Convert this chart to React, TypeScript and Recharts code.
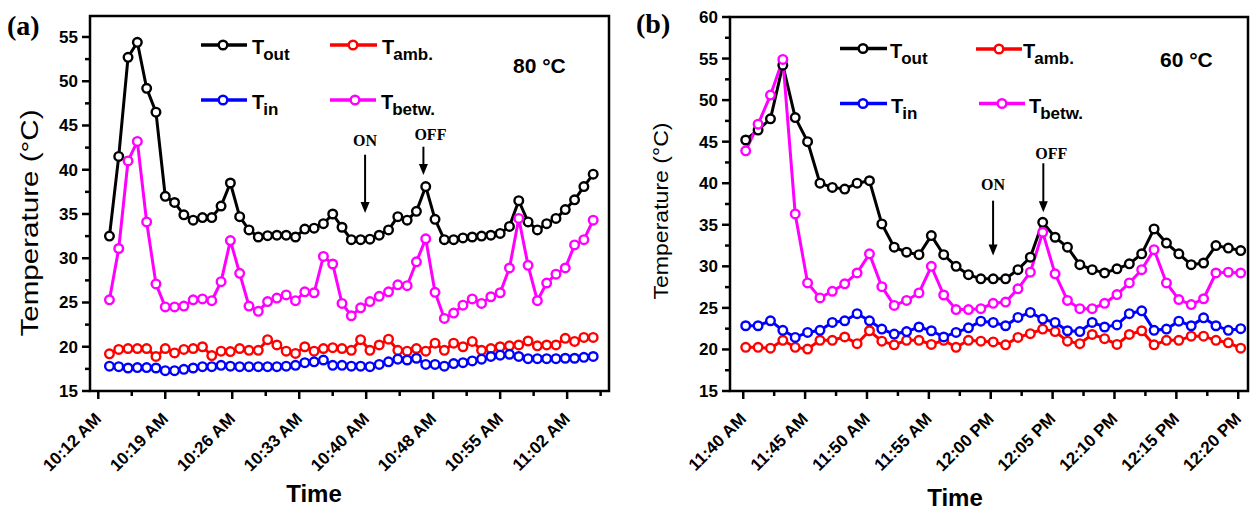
import React from 'react';
import { LineChart, Line, XAxis, YAxis, ReferenceArea, ReferenceLine } from 'recharts';

const SANS = 'Arial, "Liberation Sans", Helvetica, sans-serif';
const SERIF = '"Times New Roman", "Liberation Serif", serif';

// (a) 80 °C run, one reading a minute from about 10:13
const toutA = [32.5, 41.5, 52.7, 54.4, 49.2, 46.5, 37.0, 36.3, 34.9, 34.3, 34.6, 34.6, 35.9, 38.5, 34.7, 33.2, 32.4, 32.55, 32.6, 32.6, 32.4, 33.3, 33.4, 33.9, 35.0, 33.5, 32.1, 32.1, 32.15, 32.6, 33.2, 34.7, 34.3, 35.3, 38.1, 34.4, 32.1, 32.1, 32.3, 32.4, 32.5, 32.6, 32.8, 33.6, 36.5, 34.1, 33.2, 33.9, 34.5, 35.5, 36.6, 38.1, 39.5];
const tambA = [19.2, 19.7, 19.8, 19.8, 19.8, 18.9, 19.8, 19.3, 19.7, 19.8, 20.0, 19.0, 19.5, 19.45, 19.8, 19.6, 19.6, 20.8, 20.2, 19.5, 19.25, 20.0, 19.5, 19.8, 19.9, 19.8, 19.6, 20.8, 19.6, 20.2, 20.85, 19.6, 19.5, 19.8, 19.5, 20.4, 19.6, 20.4, 20.0, 20.6, 19.6, 19.8, 20.0, 20.1, 20.2, 20.65, 20.1, 20.2, 20.2, 20.95, 20.6, 21.05, 21.05];
const tinA = [17.8, 17.75, 17.6, 17.65, 17.65, 17.6, 17.3, 17.3, 17.45, 17.6, 17.75, 17.75, 17.9, 17.8, 17.75, 17.75, 17.75, 17.75, 17.75, 17.8, 17.9, 18.2, 18.3, 18.5, 17.9, 17.9, 17.8, 17.8, 17.75, 18.0, 18.3, 18.6, 18.5, 18.7, 18.0, 18.0, 17.8, 18.1, 18.2, 18.4, 18.6, 18.9, 19.05, 19.15, 18.9, 18.65, 18.65, 18.65, 18.65, 18.7, 18.7, 18.8, 18.9];
const tbetwA = [25.3, 31.1, 41.0, 43.2, 34.1, 27.1, 24.5, 24.5, 24.6, 25.3, 25.4, 25.2, 27.35, 32.0, 28.3, 24.6, 24.0, 25.1, 25.5, 25.85, 25.2, 26.2, 26.1, 30.2, 29.35, 24.9, 23.5, 24.4, 25.1, 25.7, 26.2, 27.0, 26.9, 29.6, 32.2, 26.15, 23.2, 23.8, 24.7, 25.4, 24.9, 25.65, 26.1, 28.9, 34.5, 29.2, 25.2, 27.2, 28.2, 28.9, 31.5, 32.1, 34.3];

// (b) 60 °C run, one reading a minute from 11:40 to 12:20
const toutB = [45.2, 46.4, 47.75, 54.2, 47.9, 45.0, 40.0, 39.5, 39.3, 40.0, 40.3, 35.1, 32.3, 31.7, 31.4, 33.7, 31.4, 30.0, 29.0, 28.5, 28.5, 28.5, 29.6, 31.1, 35.3, 33.5, 32.3, 30.2, 29.6, 29.2, 29.7, 30.3, 31.5, 34.5, 32.8, 31.5, 30.2, 30.4, 32.5, 32.2, 31.9];
const tambB = [20.25, 20.25, 20.15, 21.1, 20.25, 20.05, 21.1, 21.1, 21.5, 20.7, 22.25, 21.0, 20.55, 21.1, 21.1, 20.6, 21.1, 20.25, 21.1, 21.0, 20.9, 20.55, 21.45, 21.9, 22.45, 22.15, 21.0, 20.7, 21.8, 21.3, 20.6, 21.8, 22.25, 20.55, 21.1, 21.1, 21.6, 21.6, 21.1, 20.8, 20.15];
const tinB = [22.85, 22.85, 23.45, 22.3, 21.45, 22.05, 22.3, 23.25, 23.45, 24.3, 23.45, 22.45, 21.85, 22.15, 22.7, 22.25, 21.5, 22.05, 22.6, 23.4, 23.25, 22.85, 23.85, 24.45, 23.65, 23.25, 22.25, 22.15, 23.25, 22.7, 22.95, 24.3, 24.65, 22.3, 22.45, 23.4, 22.85, 23.8, 22.85, 22.3, 22.5];
const tbetwB = [43.9, 47.1, 50.6, 54.9, 36.3, 28.0, 26.2, 27.0, 27.9, 29.2, 31.5, 27.55, 25.3, 25.9, 26.8, 30.0, 26.55, 24.8, 24.8, 24.9, 25.55, 25.7, 27.3, 29.3, 34.1, 29.1, 25.9, 24.9, 24.9, 25.55, 26.6, 28.0, 29.6, 32.0, 28.0, 26.0, 25.4, 26.1, 29.2, 29.3, 29.2];

// time axis in minutes after midnight
const startA = 613.2;
const startB = 700.2;
const xTicksA = [612, 619.2, 626.4, 633.6, 640.8, 648, 655.2, 662.4];
const xLabelsA = ['10:12 AM', '10:19 AM', '10:26 AM', '10:33 AM', '10:40 AM', '10:48 AM', '10:55 AM', '11:02 AM'];
const xTicksB = [700, 705, 710, 715, 720, 725, 730, 735, 740];
const xLabelsB = ['11:40 AM', '11:45 AM', '11:50 AM', '11:55 AM', '12:00 PM', '12:05 PM', '12:10 PM', '12:15 PM', '12:20 PM'];
const yTicksA = [15, 20, 25, 30, 35, 40, 45, 50, 55];
const yTicksB = [15, 20, 25, 30, 35, 40, 45, 50, 55, 60];

const series = [
  { key: 'tout', color: '#000000', sub: 'out' },
  { key: 'tamb', color: '#ff0000', sub: 'amb.' },
  { key: 'tin', color: '#0000ff', sub: 'in' },
  { key: 'tbetw', color: '#ff00ff', sub: 'betw.' },
];

const buildRows = (start: number, tout: number[], tamb: number[], tin: number[], tbetw: number[]) =>
  tout.map((v, i) => ({ t: start + i, tout: v, tamb: tamb[i], tin: tin[i], tbetw: tbetw[i] }));

const dataA = buildRows(startA, toutA, tambA, tinA, tbetwA);
const dataB = buildRows(startB, toutB, tambB, tinB, tbetwB);

// majors plus one minor tick half way between them
const withMinors = (majors: number[], max: number) => {
  const step = majors[1] - majors[0];
  const out: number[] = [];
  majors.forEach((m) => {
    out.push(m);
    if (m + step / 2 <= max) out.push(+(m + step / 2).toFixed(3));
  });
  return out;
};

const makeXTick = (majors: number[], labels: string[]) => (props: any) => {
  const { x, y, payload } = props;
  const idx = majors.findIndex((m) => Math.abs(m - payload.value) < 1e-6);
  const major = idx >= 0;
  const ax = x + 4;
  const ay = y + 29;
  return (
    <g>
      <line x1={x} x2={x} y1={y} y2={y + (major ? 8 : 5)} stroke="#000" strokeWidth={2.5} />
      {major && (
        <text x={ax} y={ay} transform={`rotate(-45 ${ax} ${ay})`} textAnchor="end"
          fontFamily={SANS} fontWeight="bold" fontSize={17} fill="#000">
          {labels[idx]}
        </text>
      )}
    </g>
  );
};

const makeYTick = (majors: number[]) => (props: any) => {
  const { x, y, payload } = props;
  const major = majors.some((m) => Math.abs(m - payload.value) < 1e-6);
  return (
    <g>
      <line x1={x - (major ? 8 : 5)} x2={x} y1={y} y2={y} stroke="#000" strokeWidth={2.5} />
      {major && (
        <text x={x - 12} y={y + 6} textAnchor="end" fontFamily={SANS} fontWeight="bold" fontSize={17} fill="#000">
          {payload.value}
        </text>
      )}
    </g>
  );
};

// ON / OFF marker: text above, arrow pointing down
const arrowShape = (label: string, dx: number, dy: number) => (p: any) => {
  const { x1, y1, x2, y2 } = p;
  return (
    <g>
      <line x1={x1} y1={y1} x2={x2} y2={y2 - 8} stroke="#000" strokeWidth={2} />
      <polygon points={`${x2 - 4.5},${y2 - 11} ${x2 + 4.5},${y2 - 11} ${x2},${y2}`} fill="#000" />
      <text x={x1 + dx} y={y1 - dy} textAnchor="middle" fontFamily={SERIF} fontWeight="bold" fontSize={16} fill="#000">
        {label}
      </text>
    </g>
  );
};

type PanelProps = {
  data: any[];
  width: number;
  xDomain: [number, number];
  yDomain: [number, number];
  xMajors: number[];
  xLabels: string[];
  yMajors: number[];
  yWidth: number;
  marginRight: number;
  marginTop: number;
  arrows: { label: string; x: number; y1: number; y2: number; dx: number; dy: number }[];
};

function Panel({ data, width, xDomain, yDomain, xMajors, xLabels, yMajors, yWidth, marginRight, marginTop, arrows }: PanelProps) {
  return (
    <LineChart width={width} height={510} data={data} margin={{ top: marginTop, right: marginRight, bottom: 0, left: 0 }}>
      <XAxis type="number" dataKey="t" domain={xDomain} allowDataOverflow ticks={withMinors(xMajors, xDomain[1])}
        interval={0} tick={makeXTick(xMajors, xLabels)} tickLine={false} axisLine={false}
        tickSize={0} tickMargin={0} height={510 - 391} />
      <YAxis type="number" domain={yDomain} allowDataOverflow ticks={withMinors(yMajors, yDomain[1])}
        interval={0} tick={makeYTick(yMajors)} tickLine={false} axisLine={false}
        tickSize={0} tickMargin={0} width={yWidth} />
      <ReferenceArea x1={xDomain[0]} x2={xDomain[1]} y1={yDomain[0]} y2={yDomain[1]}
        fill="none" fillOpacity={0} stroke="#000" strokeWidth={2.5} ifOverflow="visible" />
      {series.map((s) => (
        <Line key={s.key} type="linear" dataKey={s.key} stroke={s.color} strokeWidth={3}
          dot={{ r: 4.3, fill: '#fff', stroke: s.color, strokeWidth: 2.4 }} activeDot={false}
          isAnimationActive={false} />
      ))}
      {arrows.map((a) => (
        <ReferenceLine key={a.label} segment={[{ x: a.x, y: a.y1 }, { x: a.x, y: a.y2 }]}
          shape={arrowShape(a.label, a.dx, a.dy)} ifOverflow="visible" />
      ))}
    </LineChart>
  );
}

function LegendItem({ x1, x2, cx, y, tx, color, sub }: any) {
  return (
    <g>
      <line x1={x1} x2={x2} y1={y} y2={y} stroke={color} strokeWidth={3.5} />
      <circle cx={cx} cy={y} r={4.3} fill="#fff" stroke={color} strokeWidth={2.4} />
      <text x={tx} y={y + 9} fontFamily={SANS} fontWeight="bold" fontSize={20} fill="#000">
        T<tspan fontSize={17} dx={-1} dy={6}>{sub}</tspan>
      </text>
    </g>
  );
}

const legendA = [
  { x1: 201, x2: 247, cx: 223, y: 45, tx: 252 },
  { x1: 330, x2: 377, cx: 353, y: 45, tx: 382 },
  { x1: 201, x2: 247, cx: 223, y: 100, tx: 252 },
  { x1: 330, x2: 376, cx: 355, y: 100, tx: 381 },
];
const legendB = [
  { x1: 840, x2: 887, cx: 863, y: 48.5, tx: 890 },
  { x1: 976, x2: 1022, cx: 999, y: 49, tx: 1023 },
  { x1: 840, x2: 887, cx: 863, y: 103.5, tx: 891 },
  { x1: 979, x2: 1025, cx: 1002, y: 103.5, tx: 1029 },
];

export default function App() {
  return (
    <div style={{ position: 'absolute', left: 0, top: 0, width: 1252, height: 510, background: '#fff' }}>
      <div style={{ position: 'absolute', left: 0, top: 0 }}>
        <Panel data={dataA} width={620} xDomain={[611.11, 666.9]} yDomain={[15, 57.37]}
          xMajors={xTicksA} xLabels={xLabelsA} yMajors={yTicksA} yWidth={90} marginRight={11} marginTop={16}
          arrows={[
            { label: 'ON', x: 640.68, y1: 41.7, y2: 35.1, dx: 0, dy: 9 },
            { label: 'OFF', x: 646.95, y1: 42.6, y2: 39.4, dx: 7, dy: 7 },
          ]} />
      </div>
      <div style={{ position: 'absolute', left: 620, top: 0 }}>
        <Panel data={dataB} width={632} xDomain={[698.93, 740.79]} yDomain={[15, 60]}
          xMajors={xTicksB} xLabels={xLabelsB} yMajors={yTicksB} yWidth={110} marginRight={4} marginTop={17}
          arrows={[
            { label: 'ON', x: 720.19, y1: 37.9, y2: 31.3, dx: 0, dy: 11 },
            { label: 'OFF', x: 724.25, y1: 42.4, y2: 36.5, dx: 8, dy: 4 },
          ]} />
      </div>
      <svg width={1252} height={510} style={{ position: 'absolute', left: 0, top: 0, pointerEvents: 'none' }}>
        <text x={7} y={35} fontFamily={SERIF} fontWeight="bold" fontSize={28} fill="#000">(a)</text>
        <text x={636} y={33} fontFamily={SERIF} fontWeight="bold" fontSize={28} fill="#000">(b)</text>
        <text transform="translate(38 223) rotate(-90)" textAnchor="middle" fontFamily={SANS} fontSize={23}
          textLength={227} lengthAdjust="spacingAndGlyphs" fill="#000">Temperature (°C)</text>
        <text transform="translate(668 211) rotate(-90)" textAnchor="middle" fontFamily={SANS} fontSize={20}
          textLength={177} lengthAdjust="spacingAndGlyphs" fill="#000">Temperature (°C)</text>
        <text x={314} y={502} textAnchor="middle" fontFamily={SANS} fontWeight="bold" fontSize={24} fill="#000">Time</text>
        <text x={955} y={506} textAnchor="middle" fontFamily={SANS} fontWeight="bold" fontSize={24} fill="#000">Time</text>
        <text x={513} y={73} fontFamily={SANS} fontWeight="bold" fontSize={21} fill="#000">80 °C</text>
        <text x={1160} y={67} fontFamily={SANS} fontWeight="bold" fontSize={21} fill="#000">60 °C</text>
        {series.map((s, i) => (
          <LegendItem key={'a' + s.key} {...legendA[i]} color={s.color} sub={s.sub} />
        ))}
        {series.map((s, i) => (
          <LegendItem key={'b' + s.key} {...legendB[i]} color={s.color} sub={s.sub} />
        ))}
      </svg>
    </div>
  );
}
